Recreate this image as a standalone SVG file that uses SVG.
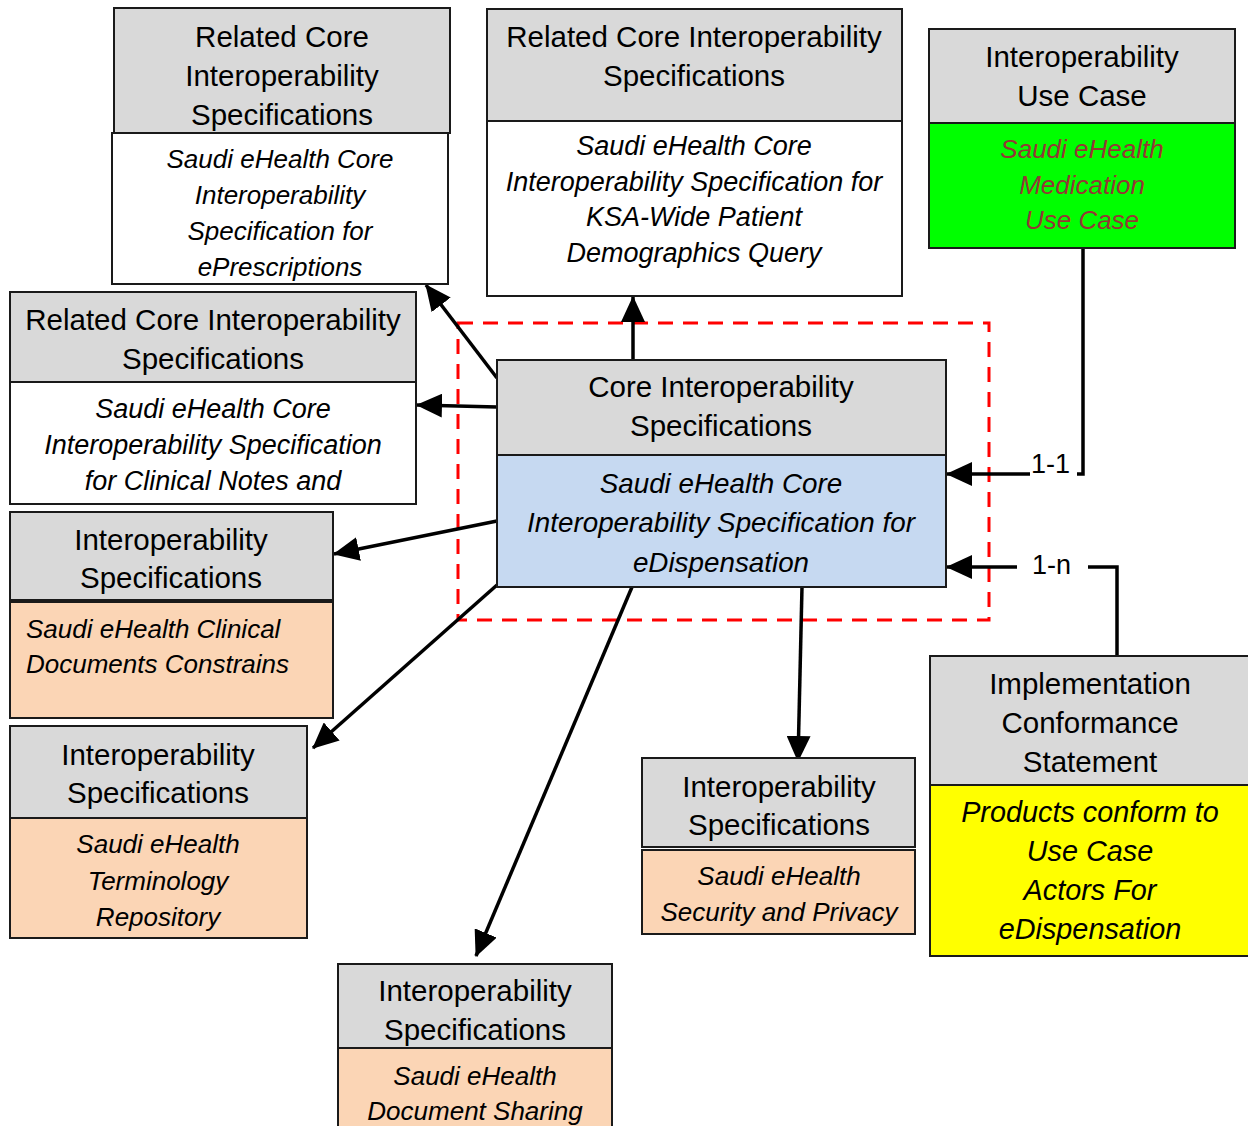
<svg xmlns="http://www.w3.org/2000/svg" width="1248" height="1126" viewBox="0 0 1248 1126">
<style>
  .hd{fill:#D9D9D9;stroke:#1a1a1a;stroke-width:2}
  .wb{fill:#FFFFFF;stroke:#1a1a1a;stroke-width:2}
  .pb{fill:#FBD5B5;stroke:#1a1a1a;stroke-width:2}
  .bb{fill:#C6D9F1;stroke:#1a1a1a;stroke-width:2}
  .gb{fill:#00FF00;stroke:#1a1a1a;stroke-width:2}
  .yb{fill:#FFFF00;stroke:#1a1a1a;stroke-width:2}
  text{font-family:"Liberation Sans",Arial,sans-serif;fill:#000}
  .h{font-size:29.5px;text-anchor:middle}
  .b{font-size:26px;font-style:italic;text-anchor:middle}
  .b27{font-size:27px}
  .bl{font-size:26px;font-style:italic}
  .red{fill:#953735}
  .lbl{font-size:27px}
  .cn{stroke:#000;stroke-width:3.5;fill:none}
</style>
<defs>
  <marker id="ah" markerUnits="userSpaceOnUse" markerWidth="26" markerHeight="24" viewBox="0 0 26 24" refX="25" refY="12" orient="auto">
    <path d="M0,0 L26,12 L0,24 z" fill="#000"/>
  </marker>
  <clipPath id="cA1"><rect x="114" y="8" width="336" height="124"/></clipPath>
  <clipPath id="cA2"><rect x="112" y="133" width="336" height="150"/></clipPath>
  <clipPath id="cH"><rect x="338" y="1048" width="274" height="78"/></clipPath>
</defs>

<rect x="458" y="323" width="531" height="297" fill="none" stroke="#FF0000" stroke-width="3" stroke-dasharray="15,10"/>

<g id="connectors">
  <line class="cn" x1="633" y1="360" x2="633" y2="297" marker-end="url(#ah)"/>
  <line class="cn" x1="497" y1="378" x2="426" y2="285" marker-end="url(#ah)"/>
  <line class="cn" x1="497" y1="407" x2="417" y2="405" marker-end="url(#ah)"/>
  <line class="cn" x1="497" y1="521" x2="334" y2="554" marker-end="url(#ah)"/>
  <line class="cn" x1="497" y1="585" x2="313" y2="748" marker-end="url(#ah)"/>
  <line class="cn" x1="632" y1="587" x2="476" y2="956" marker-end="url(#ah)"/>
  <line class="cn" x1="802" y1="587" x2="798" y2="761" marker-end="url(#ah)"/>
  <polyline class="cn" points="1083,248 1083,474 1077,474"/>
  <line class="cn" x1="1030" y1="474" x2="947" y2="474" marker-end="url(#ah)"/>
  <text class="lbl" x="1031" y="473">1-1</text>
  <polyline class="cn" points="1117,656 1117,567 1088,567"/>
  <line class="cn" x1="1017" y1="567" x2="947" y2="567" marker-end="url(#ah)"/>
  <text class="lbl" x="1032" y="574">1-n</text>
</g>

<g id="node-eprescriptions">
  <rect class="hd" x="114" y="8" width="336" height="125"/>
  <g clip-path="url(#cA1)">
    <text class="h" x="282" y="47">Related Core</text>
    <text class="h" x="282" y="86">Interoperability</text>
    <text class="h" x="282" y="125">Specifications</text>
  </g>
  <rect class="wb" x="112" y="133" width="336" height="151"/>
  <g clip-path="url(#cA2)">
    <text class="b" x="280" y="168">Saudi eHealth Core</text>
    <text class="b" x="280" y="204">Interoperability</text>
    <text class="b" x="280" y="240">Specification for</text>
    <text class="b" x="280" y="276">ePrescriptions</text>
  </g>
</g>

<g id="node-demographics">
  <rect class="hd" x="487" y="9" width="415" height="112"/>
  <text class="h" x="694" y="47">Related Core Interoperability</text>
  <text class="h" x="694" y="86">Specifications</text>
  <rect class="wb" x="487" y="121" width="415" height="175"/>
  <text class="b b27" x="694" y="155">Saudi eHealth Core</text>
  <text class="b b27" x="694" y="191">Interoperability Specification for</text>
  <text class="b b27" x="694" y="226">KSA-Wide Patient</text>
  <text class="b b27" x="694" y="262">Demographics Query</text>
</g>

<g id="node-usecase">
  <rect class="hd" x="929" y="29" width="306" height="94"/>
  <text class="h" x="1082" y="67">Interoperability</text>
  <text class="h" x="1082" y="106">Use Case</text>
  <rect class="gb" x="929" y="123" width="306" height="125"/>
  <text class="b red" x="1082" y="158">Saudi eHealth</text>
  <text class="b red" x="1082" y="194">Medication</text>
  <text class="b red" x="1082" y="229">Use Case</text>
</g>

<g id="node-clinicalnotes">
  <rect class="hd" x="10" y="292" width="406" height="90"/>
  <text class="h" x="213" y="330">Related Core Interoperability</text>
  <text class="h" x="213" y="369">Specifications</text>
  <rect class="wb" x="10" y="382" width="406" height="122"/>
  <text class="b b27" x="213" y="418">Saudi eHealth Core</text>
  <text class="b b27" x="213" y="454">Interoperability Specification</text>
  <text class="b b27" x="213" y="490">for Clinical Notes and</text>
</g>

<g id="node-core">
  <rect class="hd" x="497" y="360" width="449" height="95"/>
  <text class="h" x="721" y="397">Core Interoperability</text>
  <text class="h" x="721" y="436">Specifications</text>
  <rect class="bb" x="497" y="455" width="449" height="132"/>
  <text class="b" style="font-size:27.8px" x="721" y="493">Saudi eHealth Core</text>
  <text class="b" style="font-size:27.8px" x="721" y="532">Interoperability Specification for</text>
  <text class="b" style="font-size:27.8px" x="721" y="572">eDispensation</text>
</g>

<g id="node-clinicaldocs">
  <rect class="hd" x="10" y="512" width="323" height="88"/>
  <text class="h" x="171" y="550">Interoperability</text>
  <text class="h" x="171" y="588">Specifications</text>
  <rect class="pb" x="10" y="602" width="323" height="116"/>
  <text class="bl" x="26" y="638">Saudi eHealth Clinical</text>
  <text class="bl" x="26" y="673">Documents Constrains</text>
</g>

<g id="node-terminology">
  <rect class="hd" x="10" y="726" width="297" height="92"/>
  <text class="h" x="158" y="765">Interoperability</text>
  <text class="h" x="158" y="803">Specifications</text>
  <rect class="pb" x="10" y="818" width="297" height="120"/>
  <text class="b" x="158" y="853">Saudi eHealth</text>
  <text class="b" x="158" y="890">Terminology</text>
  <text class="b" x="158" y="926">Repository</text>
</g>

<g id="node-security">
  <rect class="hd" x="642" y="758" width="273" height="89"/>
  <text class="h" x="779" y="797">Interoperability</text>
  <text class="h" x="779" y="835">Specifications</text>
  <rect class="pb" x="642" y="850" width="273" height="84"/>
  <text class="b" x="779" y="885">Saudi eHealth</text>
  <text class="b" x="779" y="921">Security and Privacy</text>
</g>

<g id="node-docsharing">
  <rect class="hd" x="338" y="964" width="274" height="84"/>
  <text class="h" x="475" y="1001">Interoperability</text>
  <text class="h" x="475" y="1040">Specifications</text>
  <rect class="pb" x="338" y="1048" width="274" height="90"/>
  <g clip-path="url(#cH)">
    <text class="b" x="475" y="1085">Saudi eHealth</text>
    <text class="b" x="475" y="1120">Document Sharing</text>
  </g>
</g>

<g id="node-ics">
  <rect class="hd" x="930" y="656" width="330" height="129"/>
  <text class="h" x="1090" y="694">Implementation</text>
  <text class="h" x="1090" y="733">Conformance</text>
  <text class="h" x="1090" y="772">Statement</text>
  <rect class="yb" x="930" y="785" width="330" height="171"/>
  <text class="b" style="font-size:28.8px" x="1090" y="822">Products conform to</text>
  <text class="b" style="font-size:28.8px" x="1090" y="861">Use Case</text>
  <text class="b" style="font-size:28.8px" x="1090" y="900">Actors For</text>
  <text class="b" style="font-size:28.8px" x="1090" y="939">eDispensation</text>
</g>
</svg>
